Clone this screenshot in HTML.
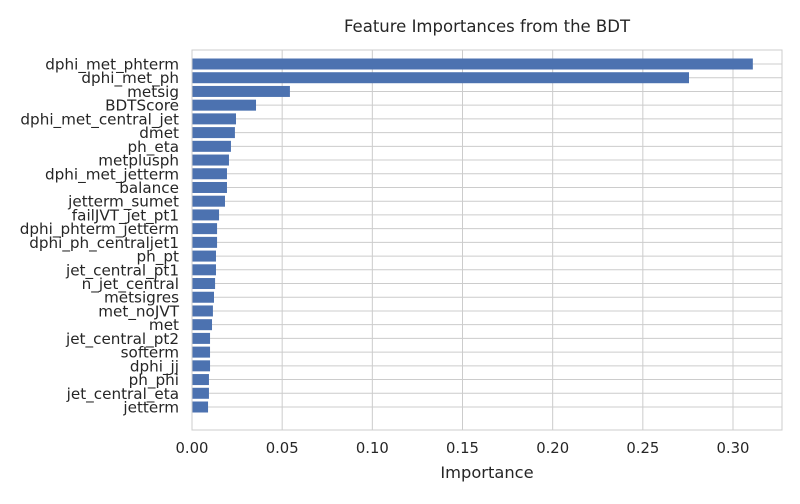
<!DOCTYPE html>
<html><head><meta charset="utf-8"><style>
body{margin:0;background:#fff;font-family:"DejaVu Sans","Liberation Sans",sans-serif;}
svg text{font-family:"DejaVu Sans","Liberation Sans",sans-serif;fill:#262626;}
</style></head><body>
<svg id="chart" width="800" height="500">
<rect x="0" y="0" width="800" height="500" fill="#fff"/>
<text x="487" y="32" font-size="16.5" text-anchor="middle">Feature Importances from the BDT</text>
<g id="grid"></g><g id="bars"></g><g id="yticks"></g><g id="xticks"></g>
<rect x="192" y="50" width="590" height="380" fill="none" stroke="#ccc" stroke-width="1"/>
<text x="487" y="478" font-size="16.3" text-anchor="middle">Importance</text>
</svg>
<script>
const features=["dphi_met_phterm","dphi_met_ph","metsig","BDTScore","dphi_met_central_jet","dmet","ph_eta","metplusph","dphi_met_jetterm","balance","jetterm_sumet","failJVT_jet_pt1","dphi_phterm_jetterm","dphi_ph_centraljet1","ph_pt","jet_central_pt1","n_jet_central","metsigres","met_noJVT","met","jet_central_pt2","softerm","dphi_jj","ph_phi","jet_central_eta","jetterm"];
const importances=[0.311,0.2756,0.0543,0.0355,0.0244,0.0238,0.0216,0.0205,0.0194,0.0194,0.0183,0.015,0.0139,0.0139,0.0133,0.0133,0.0128,0.0122,0.0116,0.0111,0.0100,0.0100,0.0100,0.0094,0.0094,0.0089];
const xTicks=[0,0.05,0.10,0.15,0.20,0.25,0.30];
const xTickLabels=["0.00","0.05","0.10","0.15","0.20","0.25","0.30"];
const NS="http://www.w3.org/2000/svg";
const x=v=>192+v*(733-192)/0.30;
const y=i=>64+i*(407-64)/25;
const bh=11;
function mk(tag,attrs,parent){const e=document.createElementNS(NS,tag);for(const k in attrs)e.setAttribute(k,attrs[k]);document.getElementById(parent).appendChild(e);return e;}
xTicks.forEach((t,i)=>{
 const g=mk("line",{x1:x(t),x2:x(t),y1:50,y2:430,stroke:"#ccc","stroke-width":1},"grid");
 
 
 const tx=mk("text",{x:x(t),y:453,"font-size":14.8,"text-anchor":"middle"},"xticks");
 tx.textContent=xTickLabels[i];
 
 
});
features.forEach((f,i)=>{
 const g=mk("line",{x1:192,x2:782,y1:y(i),y2:y(i),stroke:"#ccc","stroke-width":1},"grid");
 
 
 const b=mk("rect",{x:192,y:y(i)-bh/2,width:x(importances[i])-192,height:bh,fill:"#4c72b0"},"bars");
 
 
 const t=mk("text",{x:179,y:y(i)+5.5,"font-size":15.2,"text-anchor":"end"},"yticks");
 t.textContent=f;
 
 
});
</script>
</body></html>
